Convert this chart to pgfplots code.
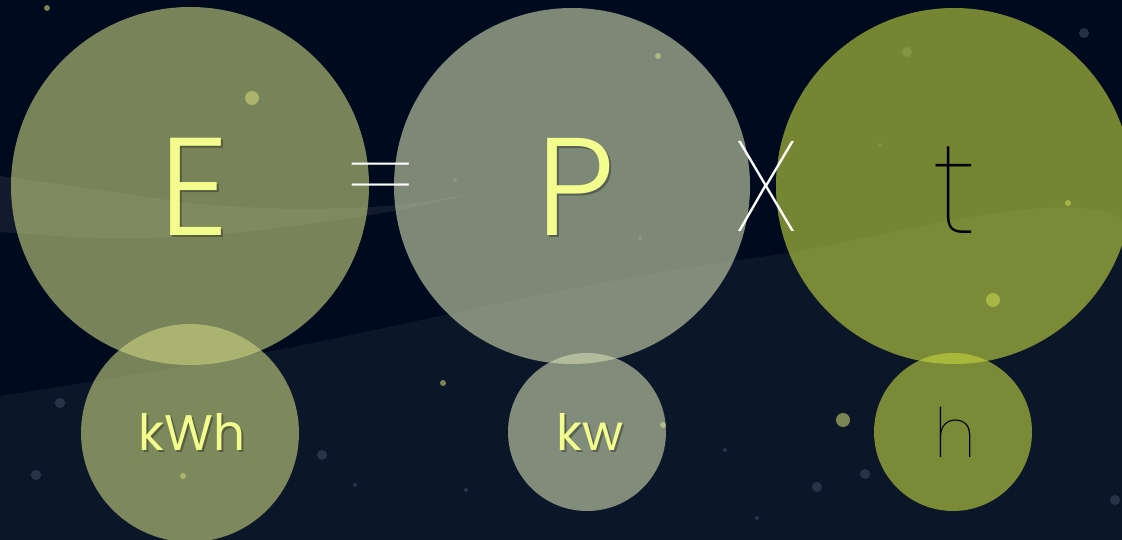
\documentclass[border=0pt]{standalone}
\usepackage{pgfplots}
\pgfplotsset{compat=1.18}
\usepackage{fontspec}
\setmainfont{Poppins}
\newfontfamily\plight{Poppins Light}
\newfontfamily\pthin{Poppins Thin}

\definecolor{bgtop}{RGB}{0,10,31}
\definecolor{bgband}{RGB}{12,22,41}
\definecolor{cE}{RGB}{203,213,128}
\definecolor{cP}{RGB}{210,220,179}
\definecolor{cT}{RGB}{197,216,63}
\definecolor{txt}{RGB}{243,253,142}
\definecolor{dotc}{RGB}{200,210,110}
\definecolor{dotb}{RGB}{60,70,95}

\tikzset{
  big/.style={anchor=base, inner sep=0pt, font=\plight\fontsize{139}{139}\selectfont},
  unit/.style={anchor=base, inner sep=0pt, font=\fontsize{50}{50}\selectfont},
  shadow/.style={text=black, text opacity=0.3, xshift=2pt, yshift=-2pt},
}
\pgfplotsset{
  bubble/.style={only marks, mark=*, color=#1,
    mark options={fill=#1, draw=#1, fill opacity=0.6, draw opacity=0}},
}

\begin{document}
\begin{tikzpicture}
\begin{axis}[
    x=1pt, y=1pt,
    xmin=0, xmax=1122, ymin=0, ymax=540,
    y dir=reverse,
    hide axis,
    clip marker paths=true,
    clip bounding box=upper bound,
]
% background
\addplot[fill=bgtop, draw=none] coordinates {(0,0) (1122,0) (1122,540) (0,540) (0,0)};
\addplot[fill=bgband, draw=none, smooth] coordinates {
    (0,396) (262,353) (560,291) (775,255) (1122,220) (1122,540) (0,540) (0,396)};
% faint light wave, top left
\addplot[fill=white, fill opacity=0.07, draw=none, smooth] coordinates {
    (0,176) (100,190) (200,204) (300,209) (400,205) (465,195)
    (400,210) (300,225) (200,236) (100,238) (0,232)};

% small dots
\addplot[bubble=dotc, mark size=3pt] coordinates {(47,8) (658,56) (1068,203) (183,476) (663,425) (443,383)};
\addplot[bubble=dotc, mark size=7pt] coordinates {(252,98) (993,300) (843,420)};
\addplot[bubble=dotb, mark size=5pt] coordinates {(322,455) (60,403) (36,475) (817,487) (865,474) (1115,500) (907,52) (1084,33)};
\addplot[bubble=dotb, mark size=2pt] coordinates {(725,450) (757,518) (640,238) (455,180) (880,145) (466,490) (355,485)};

% big circles
\addplot[bubble=cE, mark size=179pt] coordinates {(190,186)};
\addplot[bubble=cP, mark size=178pt] coordinates {(572,186)};
\addplot[bubble=cT, mark size=178pt] coordinates {(954,186)};
% small circles
\addplot[bubble=cE, mark size=109pt] coordinates {(190,433)};
\addplot[bubble=cP, mark size=79pt] coordinates {(587,432)};
\addplot[bubble=cT, mark size=79pt] coordinates {(953,432)};

% letters
\node[big, shadow] at (axis cs:194,236) {E};
\node[big, text=txt] at (axis cs:194,236) {E};
\node[big, shadow] at (axis cs:576,236) {P};
\node[big, text=txt] at (axis cs:576,236) {P};
\node[unit, shadow] at (axis cs:192,450) {kWh};
\node[unit, text=txt] at (axis cs:192,450) {kWh};
\node[unit, shadow] at (axis cs:590,450) {kw};
\node[unit, text=txt] at (axis cs:590,450) {kw};
\node[anchor=center, text=white, inner sep=0pt, font=\pthin\fontsize{118}{118}\selectfont]
    at (axis cs:381,191) {=};
\node[anchor=base, text=white, inner sep=0pt, font=\pthin\fontsize{128}{128}\selectfont]
    at (axis cs:766,232) {X};
\node[anchor=base, text=black, inner sep=0pt, font=\pthin\fontsize{128}{128}\selectfont]
    at (axis cs:955,234) {t};
\node[anchor=base, text=black, inner sep=0pt, font=\pthin\fontsize{68}{68}\selectfont]
    at (axis cs:955,457) {h};
\end{axis}
\pgfresetboundingbox
\path (current axis.south west) rectangle (current axis.north east);
\end{tikzpicture}
\end{document}
